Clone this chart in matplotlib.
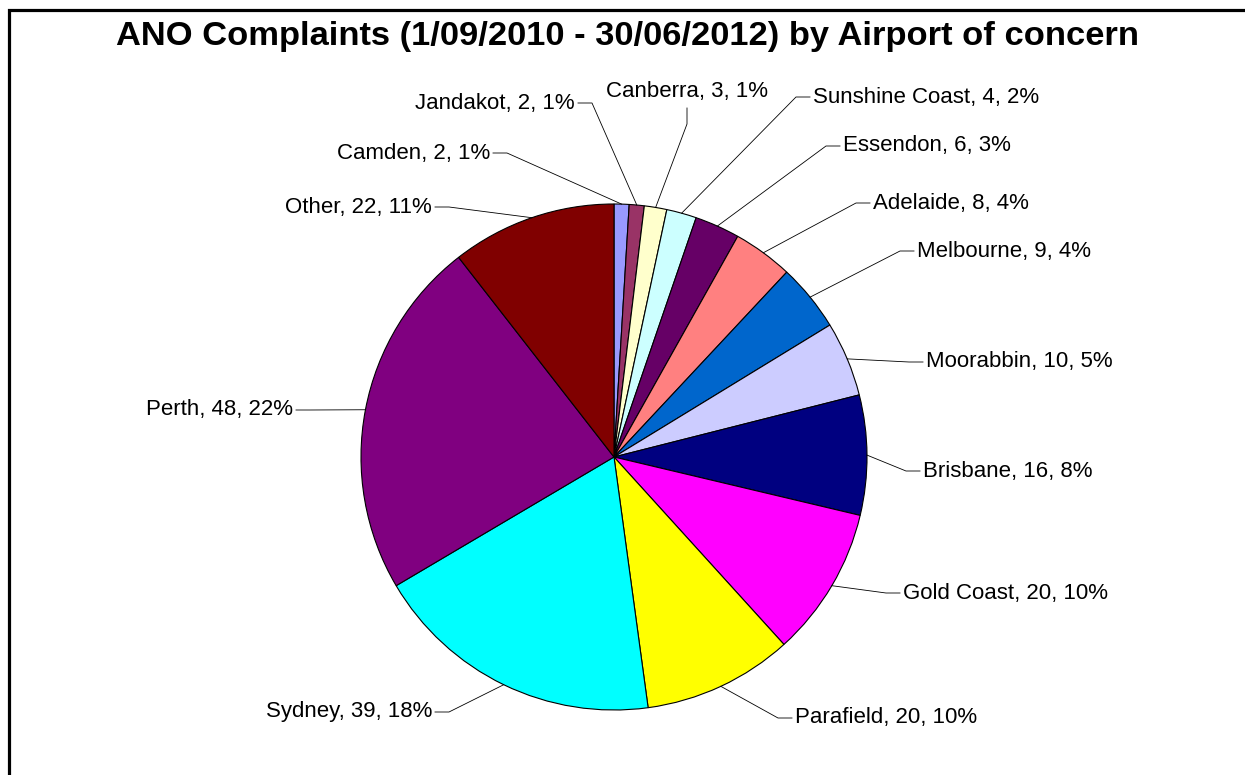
import numpy as np
import matplotlib.pyplot as plt

plt.rcParams['font.family'] = ['Liberation Sans', 'DejaVu Sans']

# data, clockwise from 12 o'clock
airports = ["Camden", "Jandakot", "Canberra", "Sunshine Coast", "Essendon",
            "Adelaide", "Melbourne", "Moorabbin", "Brisbane", "Gold Coast",
            "Parafield", "Sydney", "Perth", "Other"]
complaints = [2, 2, 3, 4, 6, 8, 9, 10, 16, 20, 20, 39, 48, 22]
pct_labels = ["1%", "1%", "1%", "2%", "3%", "4%", "4%", "5%", "8%", "10%",
              "10%", "18%", "22%", "11%"]
colors = ["#9999FF", "#993366", "#FFFFCC", "#CCFFFF", "#660066", "#FF8080",
          "#0066CC", "#CCCCFF", "#000080", "#FF00FF", "#FFFF00", "#00FFFF",
          "#800080", "#800000"]

# label layout in pixels (x, y from top, side of text)
label_pos = [(490, 153, "l"), (575, 103, "l"), (687, 92, "t"), (813, 97, "r"),
             (843, 146, "r"), (873, 203, "r"), (917, 251, "r"), (926, 362, "r"),
             (923, 471, "r"), (903, 593, "r"), (795, 718, "r"), (432, 712, "l"),
             (293, 410, "l"), (432, 207, "l")]

W, H = 1245, 775
fig = plt.figure(figsize=(W / 100, H / 100), dpi=100)
ax = fig.add_axes([0, 0, 1, 1])

cx, cy, r = 614, H - 457, 253
wedges, _ = ax.pie(complaints, colors=colors, startangle=90, counterclock=False,
                   center=(cx, cy), radius=r,
                   wedgeprops=dict(edgecolor="black", linewidth=0.8))
ax.set_aspect("auto")
ax.set_xlim(0, W)
ax.set_ylim(0, H)
ax.axis("off")

for w, name, n, p, (tx, ty, side) in zip(wedges, airports, complaints, pct_labels, label_pos):
    mid = np.deg2rad((w.theta1 + w.theta2) / 2)
    ex, ey = cx + r * np.cos(mid), cy + r * np.sin(mid)
    ty = H - ty
    txt = f"{name}, {n}, {p}"
    if side == "l":
        pts = [(ex, ey), (tx + 17, ty), (tx + 3, ty)]
        ax.text(tx, ty, txt, ha="right", va="center", fontsize=16)
    elif side == "r":
        pts = [(ex, ey), (tx - 17, ty), (tx - 3, ty)]
        ax.text(tx, ty, txt, ha="left", va="center", fontsize=16)
    else:
        pts = [(ex, ey), (tx, ty - 32), (tx, ty - 16)]
        ax.text(tx, ty, txt, ha="center", va="center", fontsize=16)
    xs, ys = zip(*pts)
    ax.plot(xs, ys, color="black", linewidth=0.6)

ax.text(627, H - 36, "ANO Complaints (1/09/2010 - 30/06/2012) by Airport of concern",
        ha="center", va="center", fontsize=24.8, fontweight="bold")

# chart frame (right and bottom sides fall outside the image)
ax.plot([8.5, 8.5, W + 5], [-5, H - 9.5, H - 9.5], color="black", linewidth=2.3,
        clip_on=False, solid_joinstyle="miter")

fig.savefig("out.png", dpi=100)
